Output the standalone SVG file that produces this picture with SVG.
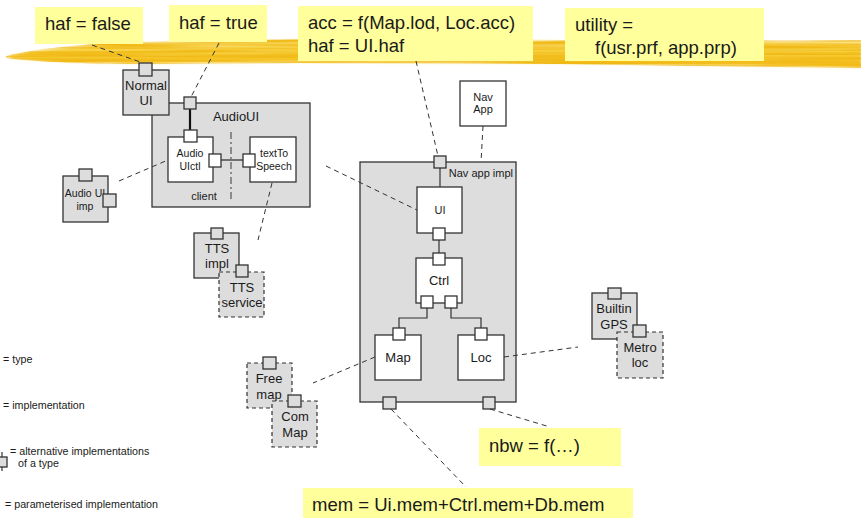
<svg xmlns="http://www.w3.org/2000/svg" width="861" height="518" viewBox="0 0 861 518">
  <defs>
    <linearGradient id="bandGrad" x1="0" y1="0" x2="0" y2="1">
      <stop offset="0" stop-color="#FBE27A"/>
      <stop offset="0.45" stop-color="#F8D140"/>
      <stop offset="1" stop-color="#F3BB18"/>
    </linearGradient>
    <filter id="brush" x="-2%" y="-40%" width="104%" height="180%">
      <feTurbulence type="fractalNoise" baseFrequency="0.006 0.45" numOctaves="2" seed="3" result="noise"/>
      <feColorMatrix in="noise" type="matrix" values="0 0 0 0 0  0 0 0 0 0  0 0 0 0 0  0 0 0 2.2 -0.55" result="streaks"/>
      <feComposite in="SourceGraphic" in2="streaks" operator="in" result="textured"/>
      <feGaussianBlur in="textured" stdDeviation="0.6"/>
    </filter>
    <filter id="soft" x="-2%" y="-40%" width="104%" height="180%">
      <feGaussianBlur stdDeviation="0.8"/>
    </filter>
  </defs>
  <style>
    .note { fill: #FFFF9C; stroke: none; }
    .noteText { font-family: "Liberation Sans", Arial, sans-serif; font-size: 18.5px; fill: #1a1a1a; }
    .box { fill: #DDDDDD; stroke: #333333; stroke-width: 1.3; }
    .wbox { fill: #FFFFFF; stroke: #333333; stroke-width: 1.3; }
    .dbox { fill: #DDDDDD; stroke: #333333; stroke-width: 1.2; stroke-dasharray: 4 3; }
    .port { fill: #DDDDDD; stroke: #333333; stroke-width: 1.3; }
    .wport { fill: #FFFFFF; stroke: #333333; stroke-width: 1.3; }
    .lbl { font-family: "Liberation Sans", Arial, sans-serif; font-size: 13px; fill: #1a1a1a; text-anchor: middle; }
    .sm { font-size: 11px; }
    .xs { font-size: 10.5px; }
    .legend { font-family: "Liberation Sans", Arial, sans-serif; font-size: 10.7px; fill: #1a1a1a; }
    .dash { fill: none; stroke: #333333; stroke-width: 1; stroke-dasharray: 5 4; }
    .wire { fill: none; stroke: #333333; stroke-width: 1.2; }
  </style>

  <!-- highlighter stroke behind the annotation notes -->
  <g id="highlight">
    <path d="M10,56 C40,50 80,46 140,43 L300,40 L560,41 L861,42 L861,67 L700,65 L560,63 L300,62 L150,63 C90,63 40,61 10,58 Z" fill="url(#bandGrad)" filter="url(#soft)"/>
    <path d="M6,56 C40,48 80,44 140,42 L300,39 L560,40 L861,40 L861,68 L700,66 L560,64 L300,63 L150,64 C90,64 40,62 6,58 Z" fill="#F0B915" filter="url(#brush)"/>
  </g>

  <!-- annotation notes -->
  <g id="note-haf-false">
    <rect class="note" x="35" y="7" width="108" height="37"/>
    <text class="noteText" x="45" y="30">haf = false</text>
  </g>
  <g id="note-haf-true">
    <rect class="note" x="169" y="5" width="98" height="37"/>
    <text class="noteText" x="179" y="29">haf = true</text>
  </g>
  <g id="note-acc">
    <rect class="note" x="298" y="6" width="235" height="55"/>
    <text class="noteText" x="308" y="29">acc = f(Map.lod, Loc.acc)</text>
    <text class="noteText" x="308" y="52">haf = UI.haf</text>
  </g>
  <g id="note-utility">
    <rect class="note" x="565" y="8" width="199" height="53"/>
    <text class="noteText" x="575" y="31">utility =</text>
    <text class="noteText" x="595" y="54">f(usr.prf, app.prp)</text>
  </g>
  <g id="note-nbw">
    <rect class="note" x="479" y="428" width="142" height="38"/>
    <text class="noteText" x="489" y="452">nbw = f(…)</text>
  </g>
  <g id="note-mem">
    <rect class="note" x="303" y="488" width="330" height="30"/>
    <text class="noteText" x="312" y="511">mem = Ui.mem+Ctrl.mem+Db.mem</text>
  </g>

  <!-- AudioUI composite -->
  <g id="audio-ui">
    <rect class="box" x="152" y="103" width="158" height="104"/>
    <text class="lbl" x="236" y="121">AudioUI</text>
    <text class="lbl sm" x="204" y="200">client</text>
    <line x1="231" y1="132" x2="231" y2="201" stroke="#555555" stroke-width="1.2" stroke-dasharray="7 3 2 3"/>
    <line x1="190" y1="109" x2="190" y2="130" stroke="#111111" stroke-width="2.2"/>
    <line x1="221" y1="160" x2="243" y2="160" stroke="#555555" stroke-width="1.6"/>
    <rect class="port" x="184" y="97" width="12" height="12"/>
  </g>
  <g id="audio-uictl">
    <rect class="wbox" x="168" y="137" width="45" height="45"/>
    <text class="lbl xs" x="190" y="157">Audio</text>
    <text class="lbl xs" x="190" y="170">UIctl</text>
    <rect class="wport" x="184" y="130" width="13" height="12"/>
    <rect class="wport" x="209" y="154" width="12" height="13"/>
  </g>
  <g id="text-to-speech">
    <rect class="wbox" x="250" y="137" width="46" height="45"/>
    <text class="lbl xs" x="274" y="157">textTo</text>
    <text class="lbl xs" x="274" y="170">Speech</text>
    <rect class="wport" x="243" y="154" width="12" height="13"/>
  </g>
  <g id="normal-ui">
    <rect class="box" x="123" y="70" width="46" height="45"/>
    <text class="lbl" x="146" y="90">Normal</text>
    <text class="lbl" x="146" y="105">UI</text>
    <rect class="port" x="139" y="63" width="13" height="13"/>
  </g>
  <g id="audio-ui-imp">
    <rect class="box" x="63" y="176" width="45" height="46"/>
    <text class="lbl xs" x="85" y="197">Audio UI</text>
    <text class="lbl xs" x="85" y="210">imp</text>
    <rect class="port" x="79" y="169" width="13" height="12"/>
    <rect class="port" x="103" y="194" width="13" height="13"/>
  </g>
  <g id="tts-impl">
    <rect class="box" x="194" y="233" width="45" height="45"/>
    <text class="lbl" x="217" y="253">TTS</text>
    <text class="lbl" x="217" y="268">impl</text>
    <rect class="port" x="211" y="228" width="12" height="11"/>
  </g>
  <g id="tts-service">
    <rect class="dbox" x="219" y="272" width="45" height="45"/>
    <text class="lbl" x="242" y="292">TTS</text>
    <text class="lbl" x="242" y="307">service</text>
    <rect class="port" x="236" y="265" width="12" height="12"/>
  </g>

  <!-- navigation application -->
  <g id="nav-app">
    <rect class="wbox" x="460" y="81" width="46" height="45"/>
    <text class="lbl sm" x="483" y="101">Nav</text>
    <text class="lbl sm" x="483" y="113">App</text>
  </g>
  <g id="nav-app-impl">
    <rect class="box" x="360" y="162" width="156" height="240"/>
    <text class="lbl sm" x="513" y="177" style="text-anchor:end">Nav app impl</text>
    <line class="wire" x1="440" y1="168" x2="440" y2="187"/>
    <line class="wire" x1="439" y1="240" x2="439" y2="253"/>
    <polyline class="wire" points="427,308 427,318 399,318 399,328"/>
    <polyline class="wire" points="451,308 451,318 481,318 481,328"/>
    <rect class="port" x="434" y="156" width="12" height="12"/>
    <rect class="port" x="383" y="397" width="13" height="12"/>
    <rect class="port" x="483" y="397" width="12" height="12"/>
  </g>
  <g id="ui">
    <rect class="wbox" x="417" y="187" width="45" height="46"/>
    <text class="lbl sm" x="440" y="214">UI</text>
    <rect class="wport" x="433" y="228" width="12" height="12"/>
  </g>
  <g id="ctrl">
    <rect class="wbox" x="416" y="258" width="46" height="45"/>
    <text class="lbl" x="439" y="285">Ctrl</text>
    <rect class="wport" x="433" y="253" width="12" height="12"/>
    <rect class="wport" x="421" y="296" width="12" height="12"/>
    <rect class="wport" x="445" y="296" width="12" height="12"/>
  </g>
  <g id="map">
    <rect class="wbox" x="375" y="335" width="46" height="45"/>
    <text class="lbl" x="398" y="362">Map</text>
    <rect class="wport" x="393" y="328" width="12" height="12"/>
  </g>
  <g id="loc">
    <rect class="wbox" x="458" y="335" width="46" height="45"/>
    <text class="lbl" x="481" y="362">Loc</text>
    <rect class="wport" x="475" y="328" width="12" height="12"/>
  </g>

  <!-- map and location implementations -->
  <g id="free-map">
    <rect class="dbox" x="247" y="363" width="45" height="45"/>
    <text class="lbl" x="269" y="383">Free</text>
    <text class="lbl" x="269" y="399">map</text>
    <rect class="port" x="263" y="357" width="13" height="12"/>
  </g>
  <g id="com-map">
    <rect class="dbox" x="272" y="401" width="45" height="46"/>
    <text class="lbl" x="295" y="421">Com</text>
    <text class="lbl" x="295" y="437">Map</text>
    <rect class="port" x="288" y="395" width="13" height="12"/>
  </g>
  <g id="builtin-gps">
    <rect class="box" x="592" y="293" width="45" height="46"/>
    <text class="lbl" x="614" y="313">Builtin</text>
    <text class="lbl" x="614" y="329">GPS</text>
    <rect class="port" x="608" y="288" width="13" height="11"/>
  </g>
  <g id="metro-loc">
    <rect class="dbox" x="617" y="332" width="46" height="46"/>
    <text class="lbl" x="640" y="352">Metro</text>
    <text class="lbl" x="640" y="367">loc</text>
    <rect class="port" x="633" y="325" width="13" height="12"/>
  </g>

  <!-- legend -->
  <g id="legend">
    <text class="legend" x="3" y="363">= type</text>
    <text class="legend" x="3" y="409">= implementation</text>
    <line x1="2" y1="452" x2="2" y2="471" stroke="#333333" stroke-width="1.2"/>
    <rect class="port" x="-4" y="457" width="11" height="10"/>
    <text class="legend" x="10" y="455">= alternative implementations</text>
    <text class="legend" x="18" y="467">of a type</text>
    <text class="legend" x="5" y="508">= parameterised implementation</text>
  </g>

  <!-- connectors -->
  <g id="connectors">
    <line class="dash" x1="92" y1="45" x2="143" y2="63"/>
    <line class="dash" x1="219" y1="43" x2="191" y2="97"/>
    <line class="dash" x1="119" y1="181" x2="168" y2="160"/>
    <line class="dash" x1="272" y1="183" x2="258" y2="240"/>
    <line class="dash" x1="416" y1="61" x2="438" y2="156"/>
    <line class="dash" x1="483" y1="126" x2="481" y2="162"/>
    <line class="dash" x1="326" y1="166" x2="417" y2="210"/>
    <line class="dash" x1="375" y1="357" x2="313" y2="383"/>
    <line class="dash" x1="504" y1="357" x2="578" y2="347"/>
    <line class="dash" x1="391" y1="409" x2="466" y2="487"/>
    <line class="dash" x1="490" y1="409" x2="550" y2="427"/>
  </g>
</svg>
